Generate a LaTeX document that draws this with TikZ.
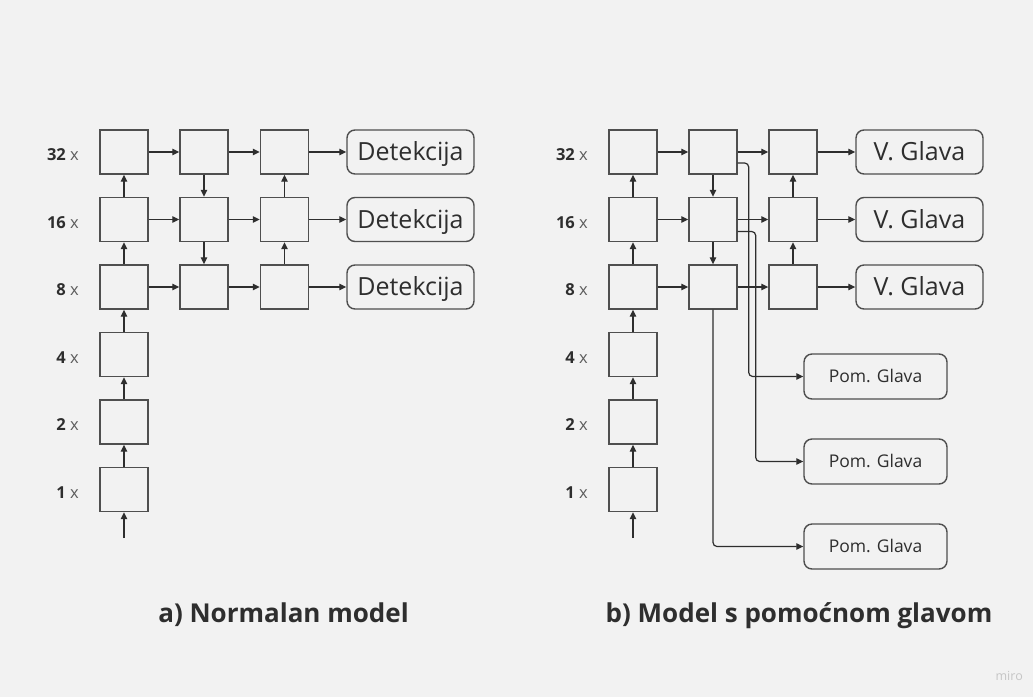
\documentclass[tikz,border=0pt]{standalone}
\usepackage{fontspec}
\setmainfont{Open Sans}
\usetikzlibrary{arrows.meta,calc}
\definecolor{bg}{HTML}{F2F2F2}
\definecolor{edge}{HTML}{4F4F4F}
\definecolor{ink}{HTML}{2E2E2E}
\definecolor{lbl}{HTML}{5C5C5C}
\definecolor{wm}{HTML}{C6C6C6}

\begin{document}
\begin{tikzpicture}[x=1pt,y=-1pt,
  blk/.style={draw=edge, line width=1.4pt, minimum width=48pt, minimum height=44pt, inner sep=0pt},
  head/.style={draw=edge, line width=1.4pt, rounded corners=8pt, minimum width=127pt,
    minimum height=44pt, inner sep=0pt, text=ink, text height=17.8pt, text depth=0pt,
    font=\fontsize{25}{30}\selectfont},
  aux/.style={head, minimum width=143pt, minimum height=45pt, text height=12.5pt,
    font=\fontsize{17.5}{21}\selectfont},
  link/.style={draw=ink, line width=1.2pt, -{Triangle[length=7pt,width=6.5pt]}},
  tap/.style={link, rounded corners=4pt},
  lvl/.style={anchor=east, inner sep=0pt, text height=12pt, text depth=0pt,
    font=\fontsize{16.5}{20}\selectfont},
  caption/.style={anchor=base, inner sep=0pt, text=ink, font=\bfseries\fontsize{26}{31}\selectfont}
]
% canvas
\fill[bg] (0,0) rectangle (1033,697);

% ---------------- a) plain model ----------------
% scale labels
\foreach \s/\y in {32/152,16/219.5,8/287,4/354.5,2/422,1/489.5}
  \node[lvl] at (79,\y+2.5) {\textbf{\color{ink}\s} {\color{lbl}x}};

% backbone column
\node[blk] (la1)  at (124,489.5) {};
\node[blk] (la2)  at (124,422) {};
\node[blk] (la4)  at (124,354.5) {};
\node[blk] (la8)  at (124,287) {};
\node[blk] (la16) at (124,219.5) {};
\node[blk] (la32) at (124,152) {};
% top-down column
\node[blk] (lb32) at (204,152) {};
\node[blk] (lb16) at (204,219.5) {};
\node[blk] (lb8)  at (204,287) {};
% bottom-up column
\node[blk] (lc32) at (284.5,152) {};
\node[blk] (lc16) at (284.5,219.5) {};
\node[blk] (lc8)  at (284.5,287) {};
% heads
\node[head] (ld32) at (410.5,152) {Detekcija};
\node[head] (ld16) at (410.5,219.5) {Detekcija};
\node[head] (ld8)  at (410.5,287) {Detekcija};

\coordinate (lin) at (124,538);
\draw[link] (lin) -- (la1);
\draw[link] (la1) -- (la2);
\draw[link] (la2) -- (la4);
\draw[link] (la4) -- (la8);
\draw[link] (la8) -- (la16);
\draw[link] (la16) -- (la32);
\draw[link] (lb32) -- (lb16);
\draw[link] (lb16) -- (lb8);
\draw[link] (lc8) -- (lc16);
\draw[link] (lc16) -- (lc32);
\foreach \r in {32,16,8} {
  \draw[link] (la\r) -- (lb\r);
  \draw[link] (lb\r) -- (lc\r);
  \draw[link] (lc\r) -- (ld\r);
}

\node[caption] (ta) at (283.5,622) {a) Normalan model};

% ---------------- b) model with auxiliary heads ----------------
\foreach \s/\y in {32/152,16/219.5,8/287,4/354.5,2/422,1/489.5}
  \node[lvl] at (588,\y+2.5) {\textbf{\color{ink}\s} {\color{lbl}x}};

\node[blk] (ra1)  at (633,489.5) {};
\node[blk] (ra2)  at (633,422) {};
\node[blk] (ra4)  at (633,354.5) {};
\node[blk] (ra8)  at (633,287) {};
\node[blk] (ra16) at (633,219.5) {};
\node[blk] (ra32) at (633,152) {};
\node[blk] (rb32) at (713,152) {};
\node[blk] (rb16) at (713,219.5) {};
\node[blk] (rb8)  at (713,287) {};
\node[blk] (rc32) at (793,152) {};
\node[blk] (rc16) at (793,219.5) {};
\node[blk] (rc8)  at (793,287) {};
\node[head] (rd32) at (919.5,152) {V. Glava};
\node[head] (rd16) at (919.5,219.5) {V. Glava};
\node[head] (rd8)  at (919.5,287) {V. Glava};
\node[aux] (p1) at (875.5,376.5) {Pom. Glava};
\node[aux] (p2) at (875.5,461.5) {Pom. Glava};
\node[aux] (p3) at (875.5,546.5) {Pom. Glava};

\coordinate (rin) at (633,538);
\draw[link] (rin) -- (ra1);
\draw[link] (ra1) -- (ra2);
\draw[link] (ra2) -- (ra4);
\draw[link] (ra4) -- (ra8);
\draw[link] (ra8) -- (ra16);
\draw[link] (ra16) -- (ra32);
\draw[link] (rb32) -- (rb16);
\draw[link] (rb16) -- (rb8);
\draw[link] (rc8) -- (rc16);
\draw[link] (rc16) -- (rc32);
\foreach \r in {32,16,8} {
  \draw[link] (ra\r) -- (rb\r);
  \draw[link] (rb\r) -- (rc\r);
  \draw[link] (rc\r) -- (rd\r);
}
% auxiliary taps
\draw[tap] ($(rb32.east)+(0,11)$) -- ++(11,0) |- (p1);
\draw[tap] ($(rb16.east)+(0,12)$) -- ++(18,0) |- (p2);
\draw[tap] (rb8) |- (p3);

\node[caption] (tb) at (799,622) {b) Model s pomoćnom glavom};

% watermark
\node[anchor=base east, inner sep=0pt, text=wm, font=\fontsize{12.5}{15}\selectfont] (wm) at (1023,680) {miro};
\end{tikzpicture}
\end{document}
